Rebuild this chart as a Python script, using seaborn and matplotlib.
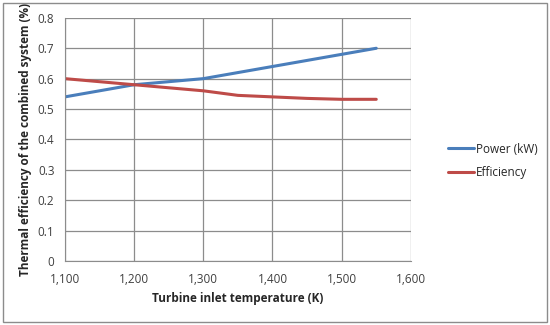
import pandas as pd
import matplotlib.pyplot as plt
import matplotlib.patches as patches
import seaborn as sns

temps = [1100, 1150, 1200, 1250, 1300, 1350, 1400, 1450, 1500, 1550]
power = [0.54, 0.56, 0.58, 0.59, 0.60, 0.62, 0.64, 0.66, 0.68, 0.70]
efficiency = [0.60, 0.59, 0.58, 0.57, 0.56, 0.545, 0.54, 0.535, 0.532, 0.532]
series_names = ["Power (kW)", "Efficiency"]
x_ticks = [1100, 1200, 1300, 1400, 1500, 1600]
y_ticks = [0, 0.1, 0.2, 0.3, 0.4, 0.5, 0.6, 0.7, 0.8]

df = pd.DataFrame({
    "temp": temps * 2,
    "value": power + efficiency,
    "series": [series_names[0]] * len(temps) + [series_names[1]] * len(temps),
})

sns.set_style("white")
plt.rcParams["font.family"] = ["Open Sans", "DejaVu Sans"]

fig = plt.figure(figsize=(5.5, 3.25), dpi=100)
ax = fig.add_axes([0.118, 0.197, 0.629, 0.748])

sns.lineplot(data=df, x="temp", y="value", hue="series",
             palette=["#4A7EBB", "#BE4B48"], linewidth=2.2, ax=ax, legend=False)

ax.set_xlim(1100, 1600)
ax.set_ylim(0, 0.8)
ax.set_xticks(x_ticks)
ax.set_xticklabels([f"{t:,}" for t in x_ticks])
ax.set_yticks(y_ticks)
ax.set_yticklabels(["0"] + [f"{v:.1f}" for v in y_ticks[1:]])
ax.grid(True, color="#8c8c8c", linewidth=0.9)
ax.set_axisbelow(True)
for side in ["top", "right"]:
    ax.spines[side].set_visible(False)
for side in ["left", "bottom"]:
    ax.spines[side].set_color("#8c8c8c")
ax.tick_params(axis="both", length=4, color="#8c8c8c", labelsize=8.5, labelcolor="#404040", direction="out")
ax.tick_params(axis="x", pad=5)
ax.set_xlabel("Turbine inlet temperature (K)", fontsize=8.5, fontweight="bold", labelpad=4)
ax.set_ylabel("Thermal efficiency of the combined system (%)", fontsize=8.5, fontweight="bold", labelpad=4)

handles = [plt.Line2D([], [], color=c, linewidth=2.2) for c in ["#4A7EBB", "#BE4B48"]]
fig.legend(handles, series_names, loc="center left", bbox_to_anchor=(0.795, 0.505),
           frameon=False, fontsize=8.5, handlelength=2.2, handletextpad=0.15, labelspacing=0.9)

fig.patches.append(patches.Rectangle((0.006, 0.008), 0.988, 0.984, transform=fig.transFigure,
                                     fill=False, edgecolor="#8c8c8c", linewidth=1))

fig.savefig("out.png", dpi=100)
